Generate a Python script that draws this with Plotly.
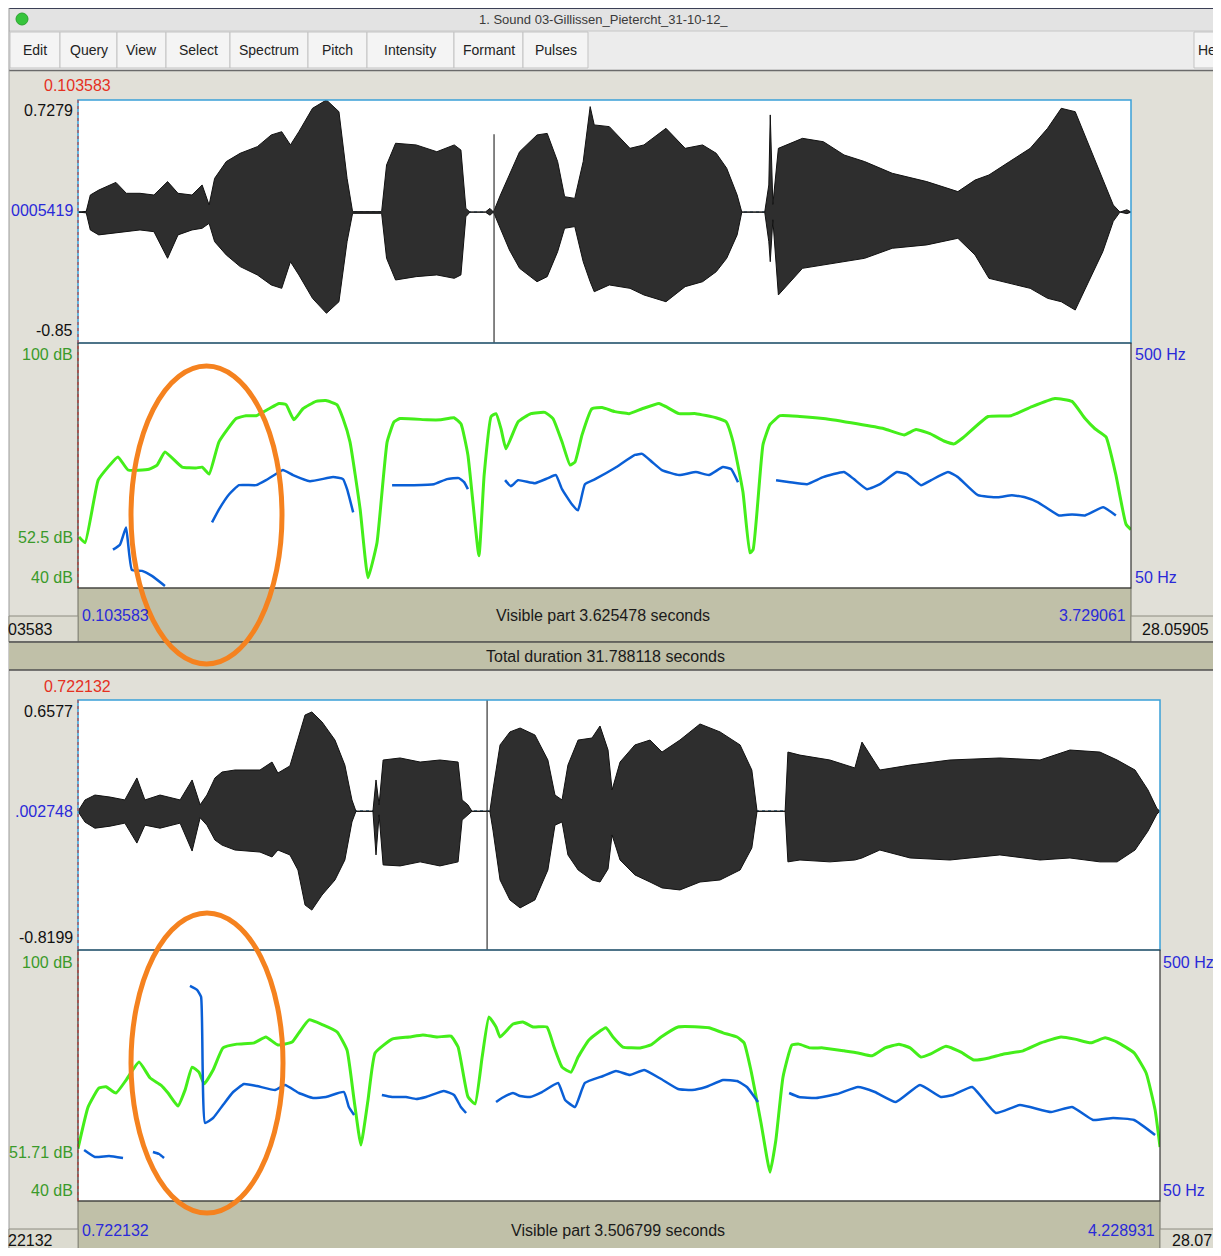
import plotly.graph_objects as go

# page is 1221x1256; the html body keeps an 8px margin, so the figure is made smaller to fit
PAGE_W, PAGE_H = 1221, 1256
OFF = 8
W, H = PAGE_W - OFF, PAGE_H - 2 * OFF

# ---------------- DATA ----------------
top_range = [0.103583, 3.729061]
bot_range = [0.722132, 4.228931]
top_amp_range = [-0.85, 0.7279]
bot_amp_range = [-0.8199, 0.6577]
top_center = 0.0005419
bot_center = 0.002748
db_range = [40, 100]
hz_range = [50, 500]

# top waveform envelope (time s, upper / lower amplitude)
top_wave_t = [0.104, 0.132, 0.146, 0.175, 0.234, 0.270, 0.317, 0.365, 0.412, 0.448, 0.496, 0.531, 0.555, 0.574,
              0.614, 0.662, 0.721, 0.769, 0.805, 0.835, 0.864, 0.911, 0.959, 1.002, 1.030, 1.049, 1.149, 1.166,
              1.197, 1.268, 1.339, 1.399, 1.422, 1.439, 1.453, 1.506, 1.522, 1.534, 1.558, 1.589, 1.624, 1.684,
              1.719, 1.755, 1.779, 1.814, 1.843, 1.867, 1.881, 1.933, 2.004, 2.052, 2.128, 2.194, 2.254, 2.301,
              2.337, 2.373, 2.389, 2.468, 2.482, 2.487, 2.496, 2.515, 2.598, 2.670, 2.741, 2.812, 2.907, 3.026,
              3.133, 3.192, 3.240, 3.311, 3.382, 3.442, 3.489, 3.537, 3.584, 3.632, 3.668, 3.691, 3.715, 3.729]
top_wave_hi = [0.0, 0.005, 0.111, 0.143, 0.193, 0.122, 0.122, 0.111, 0.198, 0.122, 0.111, 0.176, 0.046, 0.219,
               0.328, 0.382, 0.425, 0.501, 0.522, 0.436, 0.522, 0.674, 0.728, 0.652, 0.219, 0.003, 0.003, 0.306,
               0.447, 0.436, 0.392, 0.436, 0.403, 0.024, 0.0, 0.0, 0.024, 0.0, 0.111, 0.241, 0.392, 0.501,
               0.511, 0.328, 0.100, 0.089, 0.328, 0.685, 0.566, 0.555, 0.414, 0.436, 0.544, 0.414, 0.436, 0.382,
               0.285, 0.111, 0.0, 0.0, 0.176, 0.631, 0.05, 0.414, 0.479, 0.457, 0.371, 0.328, 0.252, 0.198,
               0.133, 0.208, 0.241, 0.328, 0.414, 0.544, 0.674, 0.652, 0.436, 0.219, 0.046, 0.0, 0.015, 0.0]
top_wave_lo = [0.0, -0.005, -0.116, -0.148, -0.138, -0.127, -0.116, -0.127, -0.300, -0.148, -0.116, -0.105, -0.073,
               -0.192, -0.278, -0.354, -0.408, -0.473, -0.495, -0.322, -0.408, -0.560, -0.657, -0.582, -0.192,
               -0.008, -0.008, -0.300, -0.441, -0.419, -0.408, -0.430, -0.408, -0.030, 0.0, 0.0, -0.02, 0.0,
               -0.105, -0.246, -0.365, -0.452, -0.419, -0.257, -0.105, -0.094, -0.322, -0.452, -0.517, -0.473,
               -0.495, -0.538, -0.582, -0.484, -0.452, -0.387, -0.300, -0.148, 0.0, 0.0, -0.192, -0.322, -0.05,
               -0.538, -0.365, -0.343, -0.322, -0.300, -0.235, -0.213, -0.170, -0.278, -0.430, -0.462, -0.495,
               -0.560, -0.582, -0.636, -0.452, -0.257, -0.060, 0.0, -0.01, 0.0]
top_click_t = 1.536
top_click_amp = [0.505, -0.85]

# bottom waveform envelope
bot_wave_t = [0.722, 0.729, 0.745, 0.777, 0.826, 0.874, 0.913, 0.939, 0.988, 1.053, 1.092, 1.118, 1.140, 1.166,
              1.189, 1.231, 1.312, 1.351, 1.370, 1.409, 1.435, 1.458, 1.480, 1.513, 1.555, 1.587, 1.610, 1.623,
              1.678, 1.688, 1.698, 1.711, 1.766, 1.831, 1.895, 1.954, 1.967, 1.986, 1.999, 2.057, 2.067, 2.090,
              2.122, 2.155, 2.203, 2.245, 2.268, 2.291, 2.310, 2.343, 2.388, 2.414, 2.440, 2.453, 2.479, 2.527,
              2.576, 2.615, 2.673, 2.738, 2.803, 2.868, 2.906, 2.923, 3.014, 3.023, 3.062, 3.159, 3.240, 3.263,
              3.321, 3.419, 3.548, 3.710, 3.840, 3.937, 4.034, 4.090, 4.148, 4.190, 4.219, 4.229]
bot_wave_hi = [0.0, 0.02, 0.067, 0.096, 0.084, 0.067, 0.197, 0.067, 0.096, 0.067, 0.185, 0.038, 0.096, 0.197,
               0.232, 0.244, 0.244, 0.291, 0.226, 0.268, 0.421, 0.569, 0.587, 0.528, 0.421, 0.273, 0.067, 0.0,
               0.0, 0.185, 0.038, 0.303, 0.315, 0.291, 0.303, 0.291, 0.067, 0.038, 0.0, 0.0, 0.126, 0.392,
               0.469, 0.492, 0.451, 0.303, 0.096, 0.067, 0.273, 0.421, 0.433, 0.504, 0.362, 0.126, 0.291, 0.392,
               0.421, 0.350, 0.421, 0.516, 0.469, 0.392, 0.244, 0.0, 0.0, 0.350, 0.332, 0.303, 0.256, 0.409,
               0.244, 0.273, 0.303, 0.315, 0.303, 0.362, 0.350, 0.303, 0.244, 0.126, 0.016, 0.0]
bot_wave_lo = [0.0, -0.02, -0.064, -0.100, -0.088, -0.070, -0.188, -0.082, -0.100, -0.070, -0.235, -0.038, -0.082,
               -0.170, -0.200, -0.229, -0.241, -0.270, -0.229, -0.258, -0.347, -0.554, -0.584, -0.495, -0.406,
               -0.288, -0.063, 0.0, 0.0, -0.258, -0.021, -0.317, -0.323, -0.299, -0.323, -0.299, -0.052, -0.021,
               0.0, 0.0, -0.111, -0.406, -0.524, -0.571, -0.524, -0.347, -0.082, -0.063, -0.258, -0.347, -0.406,
               -0.418, -0.341, -0.140, -0.288, -0.376, -0.418, -0.453, -0.465, -0.418, -0.406, -0.347, -0.217,
               0.0, 0.0, -0.299, -0.288, -0.299, -0.288, -0.276, -0.229, -0.276, -0.288, -0.258, -0.288, -0.276,
               -0.299, -0.299, -0.229, -0.117, -0.016, 0.0]
bot_click_t = 2.048
bot_click_amp = [0.6577, -0.8199]

# top intensity (dB)
top_int_t = [0.107, 0.128, 0.173, 0.207, 0.241, 0.276, 0.348, 0.376, 0.403, 0.462, 0.510, 0.531, 0.555, 0.589,
             0.648, 0.682, 0.717, 0.761, 0.796, 0.820, 0.847, 0.878, 0.923, 0.957, 0.995, 1.016, 1.040, 1.075,
             1.102, 1.133, 1.168, 1.192, 1.212, 1.305, 1.353, 1.398, 1.422, 1.446, 1.484, 1.502, 1.526, 1.543,
             1.560, 1.577, 1.619, 1.663, 1.711, 1.739, 1.770, 1.798, 1.815, 1.839, 1.873, 1.908, 1.952, 2.001,
             2.046, 2.104, 2.128, 2.173, 2.231, 2.300, 2.335, 2.359, 2.393, 2.417, 2.428, 2.462, 2.486, 2.521,
             2.589, 2.669, 2.786, 2.879, 2.948, 2.989, 3.037, 3.085, 3.120, 3.154, 3.237, 3.316, 3.388, 3.467,
             3.526, 3.571, 3.605, 3.643, 3.677, 3.712, 3.729]
top_int_db = [52.5, 51.1, 66.4, 69.6, 72.1, 68.9, 69.1, 70.1, 73.3, 69.6, 69.4, 69.6, 67.9, 75.8, 81.5, 82.2,
              82.2, 83.9, 85.2, 84.9, 81.2, 83.9, 85.7, 85.9, 84.9, 81.5, 75.8, 59.3, 42.5, 51.1, 75.8, 80.7,
              81.5, 81.2, 81.2, 81.7, 80.2, 72.6, 47.9, 67.7, 82.0, 82.7, 79.0, 74.1, 80.7, 82.7, 83.0, 81.5,
              75.8, 70.1, 70.9, 77.5, 83.9, 84.2, 83.2, 82.7, 83.9, 85.2, 84.4, 82.7, 82.7, 81.7, 80.7, 75.8,
              63.5, 48.6, 49.4, 75.1, 80.0, 82.2, 82.0, 81.5, 80.2, 79.0, 77.5, 78.8, 77.8, 76.0, 75.3, 77.0,
              82.0, 82.2, 84.4, 86.4, 85.7, 81.5, 79.0, 77.0, 67.7, 55.6, 54.3]

# top pitch (Hz), voiced segments
top_pitch_t = [
    [0.224, 0.248, 0.269, 0.289, 0.324, 0.358, 0.403],
    [0.565, 0.589, 0.624, 0.658, 0.717, 0.751, 0.785, 0.809, 0.844, 0.902, 0.982, 1.016, 1.030, 1.051],
    [1.185, 1.260, 1.329, 1.374, 1.415, 1.433, 1.446],
    [1.574, 1.594, 1.619, 1.677, 1.722, 1.749, 1.770, 1.804, 1.825, 1.849, 1.884, 1.952, 2.021, 2.046, 2.080,
     2.114, 2.173, 2.231, 2.276, 2.324, 2.352, 2.376],
    [2.507, 2.555, 2.614, 2.669, 2.741, 2.775, 2.820, 2.865, 2.923, 2.958, 3.006, 3.041, 3.099, 3.133, 3.202,
     3.271, 3.319, 3.364, 3.409, 3.481, 3.526, 3.571, 3.633, 3.677],
]
top_pitch_hz = [
    [120.4, 129.6, 161.1, 83.3, 81.5, 72.2, 53.7],
    [170.4, 194.4, 222.2, 238.9, 238.9, 248.1, 259.3, 266.7, 257.4, 246.3, 253.7, 250.0, 231.5, 188.9],
    [238.9, 238.9, 240.7, 250.0, 251.9, 244.4, 231.5],
    [248.1, 237.0, 248.1, 242.6, 251.9, 257.4, 231.5, 203.7, 192.6, 240.7, 250.0, 270.4, 294.4, 296.3, 281.5,
     266.7, 257.4, 263.0, 257.4, 272.2, 268.5, 244.4],
    [248.1, 244.4, 240.7, 253.7, 263.0, 250.0, 231.5, 240.7, 263.0, 259.3, 238.9, 248.1, 263.0, 253.7, 220.4,
     216.7, 220.4, 216.7, 207.4, 183.3, 185.2, 183.3, 198.1, 183.3],
]

# bottom intensity (dB)
bot_int_t = [0.722, 0.755, 0.790, 0.813, 0.845, 0.878, 0.920, 0.956, 0.991, 1.014, 1.046, 1.069, 1.092, 1.114,
             1.131, 1.160, 1.192, 1.237, 1.293, 1.331, 1.370, 1.416, 1.438, 1.471, 1.516, 1.562, 1.594, 1.617,
             1.639, 1.662, 1.685, 1.740, 1.795, 1.840, 1.886, 1.931, 1.954, 1.986, 2.009, 2.032, 2.054, 2.077,
             2.090, 2.132, 2.164, 2.197, 2.242, 2.265, 2.291, 2.320, 2.343, 2.378, 2.433, 2.456, 2.488, 2.544,
             2.579, 2.612, 2.667, 2.735, 2.767, 2.813, 2.858, 2.881, 2.903, 2.936, 2.965, 2.984, 3.007, 3.036,
             3.059, 3.095, 3.137, 3.205, 3.250, 3.296, 3.338, 3.383, 3.419, 3.454, 3.484, 3.535, 3.584, 3.626,
             3.675, 3.720, 3.785, 3.843, 3.908, 3.953, 4.005, 4.051, 4.090, 4.145, 4.184, 4.213, 4.229]
bot_int_db = [52.5, 62.5, 67.0, 67.3, 65.8, 68.9, 73.2, 69.4, 67.7, 65.8, 62.7, 66.5, 72.0, 70.8, 68.0, 71.3,
              76.6, 77.5, 77.8, 79.2, 77.3, 78.0, 80.2, 83.3, 82.1, 80.4, 76.1, 64.1, 53.4, 64.1, 75.4, 78.7,
              79.2, 79.7, 79.2, 79.4, 76.8, 64.9, 63.2, 74.4, 84.0, 81.6, 79.2, 82.3, 82.8, 81.6, 81.6, 76.8,
              72.0, 70.8, 74.4, 78.5, 81.4, 79.2, 76.8, 76.6, 77.3, 79.2, 81.6, 81.6, 81.4, 80.2, 79.2, 77.8,
              71.3, 58.6, 46.9, 54.6, 69.6, 77.3, 77.5, 76.6, 76.6, 75.9, 75.4, 74.7, 76.6, 77.5, 76.6, 74.4,
              75.1, 77.0, 75.6, 73.7, 74.2, 75.1, 75.9, 77.8, 79.2, 78.7, 77.8, 79.0, 78.0, 75.4, 70.6, 61.8, 52.9]

# bottom pitch (Hz), voiced segments
bot_pitch_t = [
    [0.742, 0.777, 0.823, 0.868],
    [0.965, 0.985, 1.001],
    [1.085, 1.108, 1.121, 1.134, 1.160, 1.192, 1.225, 1.260, 1.302, 1.361, 1.393, 1.438, 1.484, 1.526, 1.584,
     1.600, 1.617],
    [1.707, 1.740, 1.785, 1.818, 1.850, 1.908, 1.941, 1.963, 1.980],
    [2.077, 2.096, 2.132, 2.155, 2.187, 2.226, 2.278, 2.301, 2.333, 2.365, 2.424, 2.466, 2.511, 2.557, 2.612,
     2.667, 2.712, 2.757, 2.813, 2.858, 2.890, 2.926],
    [3.027, 3.059, 3.114, 3.182, 3.250, 3.305, 3.373, 3.451, 3.519, 3.558, 3.620, 3.697, 3.775, 3.876, 3.944,
     4.012, 4.077, 4.145, 4.213],
]
bot_pitch_hz = [
    [141.4, 128.9, 130.7, 127.1],
    [137.9, 134.3, 127.1],
    [435.5, 428.3, 415.8, 189.9, 198.8, 222.1, 245.4, 259.8, 256.2, 249.0, 258.0, 243.6, 234.7, 236.5, 245.4,
     218.5, 204.2],
    [240.0, 236.5, 236.5, 232.9, 236.5, 247.2, 240.0, 218.5, 207.8],
    [227.5, 234.7, 243.6, 238.3, 236.5, 245.4, 261.6, 231.1, 218.5, 261.6, 274.1, 283.1, 275.9, 284.9, 268.7,
     250.8, 249.0, 254.4, 266.9, 265.1, 254.4, 227.5],
    [243.6, 236.5, 234.7, 241.8, 254.4, 245.4, 227.5, 258.0, 236.5, 240.0, 254.4, 207.8, 222.1, 209.6, 218.5,
     195.2, 198.8, 195.2, 168.3],
]

menu_items = ["Edit", "Query", "View", "Select", "Spectrum", "Pitch", "Intensity", "Formant", "Pulses"]
window_title = "1. Sound 03-Gillissen_Pietercht_31-10-12_"


# ---------------- helpers (layout only; page pixel -> paper) ----------------
def px(x):
    return (x - OFF) / W


def py(y):
    return 1 - (y - OFF) / H


def join_segments(ts, vs):
    xx, yy = [], []
    for t, v in zip(ts, vs):
        xx += list(t) + [None]
        yy += list(v) + [None]
    return xx, yy


FONT = "Liberation Sans, Arial, Helvetica, sans-serif"
BEIGE = "#e1e0d8"
OLIVE = "#c0c0a8"
GREEN = "#44ee1a"
BLUE = "#0a5fd6"
LBL_GREEN = "#3a9a2a"
LBL_BLUE = "#2a2ad8"
LBL_RED = "#e5301f"
WAVE_FILL = "#2e2e2e"

fig = go.Figure()

# ---------------- traces ----------------
fig.add_trace(go.Scatter(x=top_range, y=[top_center, top_center], mode="lines",
                         line=dict(color="#2f6f9a", width=1, dash="dot"), xaxis="x", yaxis="y"))
fig.add_trace(go.Scatter(x=top_wave_t + top_wave_t[::-1], y=top_wave_hi + top_wave_lo[::-1], mode="lines",
                         fill="toself", fillcolor=WAVE_FILL, line=dict(color="#111111", width=1),
                         xaxis="x", yaxis="y"))
fig.add_trace(go.Scatter(x=[top_click_t, top_click_t], y=top_click_amp, mode="lines",
                         line=dict(color="#333333", width=1.2), xaxis="x", yaxis="y"))
fig.add_trace(go.Scatter(x=top_int_t, y=top_int_db, mode="lines",
                         line=dict(color=GREEN, width=3, shape="spline", smoothing=0.4),
                         xaxis="x2", yaxis="y2"))
tx, ty = join_segments(top_pitch_t, top_pitch_hz)
fig.add_trace(go.Scatter(x=tx, y=ty, mode="lines",
                         line=dict(color=BLUE, width=2.5, shape="spline", smoothing=0.4),
                         connectgaps=False, xaxis="x2", yaxis="y3"))

fig.add_trace(go.Scatter(x=bot_range, y=[bot_center, bot_center], mode="lines",
                         line=dict(color="#2f6f9a", width=1, dash="dot"), xaxis="x3", yaxis="y4"))
fig.add_trace(go.Scatter(x=bot_wave_t + bot_wave_t[::-1], y=bot_wave_hi + bot_wave_lo[::-1], mode="lines",
                         fill="toself", fillcolor=WAVE_FILL, line=dict(color="#111111", width=1),
                         xaxis="x3", yaxis="y4"))
fig.add_trace(go.Scatter(x=[bot_click_t, bot_click_t], y=bot_click_amp, mode="lines",
                         line=dict(color="#333333", width=1.2), xaxis="x3", yaxis="y4"))
fig.add_trace(go.Scatter(x=bot_int_t, y=bot_int_db, mode="lines",
                         line=dict(color=GREEN, width=3, shape="spline", smoothing=0.4),
                         xaxis="x4", yaxis="y5"))
bx, by = join_segments(bot_pitch_t, bot_pitch_hz)
fig.add_trace(go.Scatter(x=bx, y=by, mode="lines",
                         line=dict(color=BLUE, width=2.5, shape="spline", smoothing=0.4),
                         connectgaps=False, xaxis="x4", yaxis="y6"))

# ---------------- axes ----------------
hid = dict(visible=False, showgrid=False, zeroline=False, fixedrange=True)
fig.update_layout(
    xaxis=dict(domain=[px(78), px(1131)], range=top_range, anchor="y", **hid),
    yaxis=dict(domain=[py(343), py(100)], range=top_amp_range, anchor="x", **hid),
    xaxis2=dict(domain=[px(78), px(1131)], range=top_range, anchor="y2", **hid),
    yaxis2=dict(domain=[py(588), py(343)], range=db_range, anchor="x2", **hid),
    yaxis3=dict(range=hz_range, overlaying="y2", anchor="x2", **hid),
    xaxis3=dict(domain=[px(78), px(1160)], range=bot_range, anchor="y4", **hid),
    yaxis4=dict(domain=[py(950), py(700)], range=bot_amp_range, anchor="x3", **hid),
    xaxis4=dict(domain=[px(78), px(1160)], range=bot_range, anchor="y5", **hid),
    yaxis5=dict(domain=[py(1201), py(950)], range=db_range, anchor="x4", **hid),
    yaxis6=dict(range=hz_range, overlaying="y5", anchor="x4", **hid),
)

# ---------------- shapes ----------------
shapes = []


def rect(x0, y0, x1, y1, fill=None, line=None, lw=1, layer="below"):
    shapes.append(dict(type="rect", xref="paper", yref="paper", x0=px(x0), x1=px(x1), y0=py(y1), y1=py(y0),
                       fillcolor=fill if fill else "rgba(0,0,0,0)",
                       line=dict(color=line if line else "rgba(0,0,0,0)", width=lw if line else 0),
                       layer=layer))


def hline(x0, x1, y, color, lw=1, layer="below", dash="solid"):
    shapes.append(dict(type="line", xref="paper", yref="paper", x0=px(x0), x1=px(x1), y0=py(y), y1=py(y),
                       line=dict(color=color, width=lw, dash=dash), layer=layer))


def vline(x, y0, y1, color, lw=1, layer="below", dash="solid"):
    shapes.append(dict(type="line", xref="paper", yref="paper", x0=px(x), x1=px(x), y0=py(y0), y1=py(y1),
                       line=dict(color=color, width=lw, dash=dash), layer=layer))


# window backgrounds
rect(9, 71, 1221, 1256, fill=BEIGE)
rect(9, 7, 1221, 31, fill="#e3e3e3")
hline(9, 1221, 8.5, "#3b3f55", 1.2)
rect(9, 31, 1221, 71, fill="#ececec")
hline(9, 1221, 31, "#c6c6c6", 1)
hline(9, 1221, 70.5, "#6a6a6a", 1.5)
vline(9, 8, 1256, "#9a9a9a", 1)
shapes.append(dict(type="circle", xref="paper", yref="paper", x0=px(16), x1=px(28), y0=py(25), y1=py(13),
                   fillcolor="#36c43c", line=dict(color="#2aa42f", width=1), layer="below"))
btn_edges = [10, 60, 117, 166, 230, 308, 367, 454, 523, 588]
for i in range(len(menu_items)):
    rect(btn_edges[i], 32, btn_edges[i + 1], 68, fill="#f4f4f4", line="#c3c3c3", lw=1)
rect(1194, 32, 1230, 68, fill="#f4f4f4", line="#c3c3c3", lw=1)

# white plot areas
rect(78, 100, 1131, 588, fill="white")
rect(78, 700, 1160, 1201, fill="white")

# top panel strips
rect(78, 588, 1131, 642, fill=OLIVE, line="#6d6d60", lw=1)
rect(9, 616, 78, 642, fill="#dcdbd0", line="#8c8c80", lw=1)
rect(1131, 616, 1225, 642, fill="#dcdbd0", line="#8c8c80", lw=1)
rect(9, 642, 1221, 670, fill=OLIVE)
hline(9, 1221, 642, "#505050", 1.5)
hline(9, 1221, 670, "#505050", 1.5)
# bottom panel strips
rect(78, 1201, 1160, 1262, fill=OLIVE, line="#6d6d60", lw=1)
rect(9, 1229, 78, 1262, fill="#dcdbd0", line="#8c8c80", lw=1)
rect(1160, 1229, 1225, 1262, fill="#dcdbd0", line="#8c8c80", lw=1)

# plot box borders
rect(78, 100, 1131, 343, line="#3aa0d8", lw=1.5, layer="above")
rect(78, 343, 1131, 588, line="#333333", lw=1.2, layer="above")
rect(78, 700, 1160, 950, line="#3aa0d8", lw=1.5, layer="above")
rect(78, 950, 1160, 1201, line="#333333", lw=1.2, layer="above")
vline(78, 100, 588, "#c8322a", 1, layer="above", dash="dot")
vline(78, 700, 1201, "#c8322a", 1, layer="above", dash="dot")

# orange highlight ellipses
for (x0, y0, x1, y1) in [(131, 366, 282, 664), (131, 913, 283, 1213)]:
    shapes.append(dict(type="circle", xref="paper", yref="paper", x0=px(x0), x1=px(x1), y0=py(y1), y1=py(y0),
                       line=dict(color="#f5821f", width=5), fillcolor="rgba(0,0,0,0)", layer="above"))

fig.update_layout(shapes=shapes)

# ---------------- text ----------------
ann = []


def text(x, y, s, color="#1a1a1a", size=16, anchor="center"):
    ann.append(dict(x=px(x), y=py(y), xref="paper", yref="paper", text=s, showarrow=False,
                    xanchor=anchor, yanchor="middle", font=dict(family=FONT, size=size, color=color)))


text(603, 19, window_title, "#3a3a3a", 13)
for i, m in enumerate(menu_items):
    text((btn_edges[i] + btn_edges[i + 1]) / 2, 50, m, "#222222", 14)
text(1196, 50, "He", "#222222", 14, "left")

text(77, 86, "0.103583", LBL_RED)
text(75, 110, "0.7279", "#111111", 16, "right")
text(75, 211, "0005419", LBL_BLUE, 16, "right")
text(75, 330, "-0.85", "#111111", 16, "right")
text(75, 355, "100 dB", LBL_GREEN, 16, "right")
text(75, 537, "52.5 dB", LBL_GREEN, 16, "right")
text(75, 577, "40 dB", LBL_GREEN, 16, "right")
text(1133, 355, "500 Hz", LBL_BLUE, 16, "left")
text(1133, 577, "50 Hz", LBL_BLUE, 16, "left")
text(80, 615, "0.103583", LBL_BLUE, 16, "left")
text(603, 615, "Visible part 3.625478 seconds")
text(1128, 615, "3.729061", LBL_BLUE, 16, "right")
text(55, 629, "03583", "#111111", 16, "right")
text(1211, 629, "28.05905", "#111111", 16, "right")
text(605, 656, "Total duration 31.788118 seconds")

text(77, 686, "0.722132", LBL_RED)
text(75, 711, "0.6577", "#111111", 16, "right")
text(75, 811, ".002748", LBL_BLUE, 16, "right")
text(75, 937, "-0.8199", "#111111", 16, "right")
text(75, 962, "100 dB", LBL_GREEN, 16, "right")
text(75, 1152, "51.71 dB", LBL_GREEN, 16, "right")
text(75, 1190, "40 dB", LBL_GREEN, 16, "right")
text(1161, 962, "500 Hz", LBL_BLUE, 16, "left")
text(1161, 1190, "50 Hz", LBL_BLUE, 16, "left")
text(80, 1230, "0.722132", LBL_BLUE, 16, "left")
text(618, 1230, "Visible part 3.506799 seconds")
text(1157, 1230, "4.228931", LBL_BLUE, 16, "right")
text(55, 1240, "22132", "#111111", 16, "right")
text(1170, 1240, "28.07", "#111111", 16, "left")

fig.update_layout(
    annotations=ann,
    width=W, height=H,
    margin=dict(l=0, r=0, t=0, b=0),
    paper_bgcolor="white",
    plot_bgcolor="white",
    showlegend=False,
    hovermode=False,
)

fig.write_html("out.html", config={"displayModeBar": False})
